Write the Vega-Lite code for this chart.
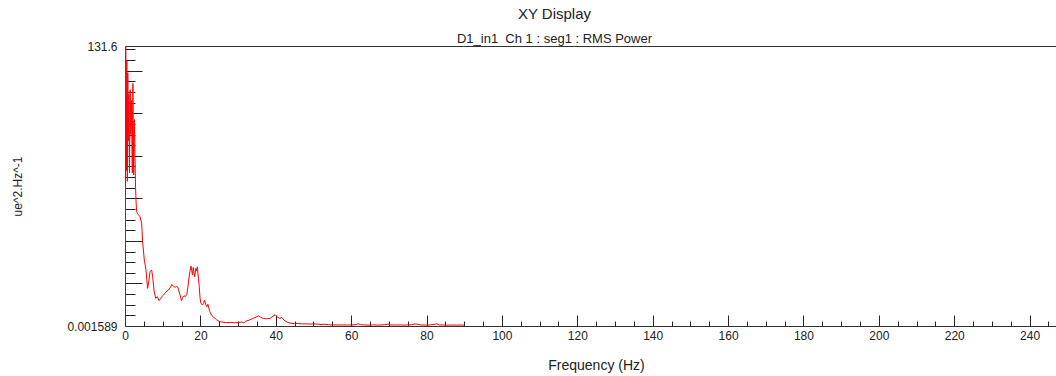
{
  "$schema": "https://vega.github.io/schema/vega-lite/v6.json",
  "width": 931,
  "height": 280,
  "autosize": "none",
  "padding": {"left": 125, "top": 46, "right": 0, "bottom": 50},
  "background": "white",
  "config": {
    "view": {"stroke": null},
    "font": "Liberation Sans",
    "axis": {"grid": false, "labelFont": "Liberation Sans", "titleFont": "Liberation Sans", "labelColor": "#222", "titleColor": "#222", "tickColor": "#222", "domainColor": "#333", "titleFontWeight": "normal"}
  },
  "title": {
    "text": "XY Display",
    "subtitle": "D1_in1\u00a0 Ch 1 : seg1 : RMS Power",
    "anchor": "middle",
    "dx": -36,
    "offset": -6,
    "fontSize": 15,
    "fontWeight": "normal",
    "color": "#222",
    "subtitleFontSize": 13,
    "subtitleColor": "#222",
    "subtitlePadding": 11,
    "font": "Liberation Sans",
    "subtitleFont": "Liberation Sans"
  },
  "data": {
    "values": [
      {"f": 0, "v": 6},
      {"f": 0.19, "v": 131.6},
      {"f": 0.34, "v": 73},
      {"f": 0.48, "v": 125},
      {"f": 0.61, "v": 68},
      {"f": 0.74, "v": 119},
      {"f": 0.88, "v": 87},
      {"f": 1.01, "v": 109},
      {"f": 1.19, "v": 72},
      {"f": 1.38, "v": 111},
      {"f": 1.54, "v": 90},
      {"f": 1.72, "v": 106},
      {"f": 1.94, "v": 72},
      {"f": 2.1, "v": 114},
      {"f": 2.3, "v": 71},
      {"f": 2.5, "v": 97},
      {"f": 2.65, "v": 80},
      {"f": 2.8, "v": 65},
      {"f": 2.95, "v": 58},
      {"f": 3.1, "v": 53.7},
      {"f": 3.45, "v": 52.5},
      {"f": 3.98, "v": 51.4},
      {"f": 4.42, "v": 48.3},
      {"f": 4.68, "v": 39.6},
      {"f": 5.13, "v": 31},
      {"f": 5.57, "v": 26.3},
      {"f": 6.0, "v": 17.7},
      {"f": 6.37, "v": 21.6},
      {"f": 6.63, "v": 25.5},
      {"f": 7.07, "v": 26.3},
      {"f": 7.34, "v": 23.2},
      {"f": 7.69, "v": 16.9},
      {"f": 8.14, "v": 13},
      {"f": 8.58, "v": 13.8},
      {"f": 9.02, "v": 11.9},
      {"f": 9.4, "v": 12.8},
      {"f": 9.73, "v": 13.8},
      {"f": 10.2, "v": 14.5},
      {"f": 10.6, "v": 15.4},
      {"f": 11.1, "v": 16.4},
      {"f": 11.5, "v": 16.9},
      {"f": 12.0, "v": 18.0},
      {"f": 12.4, "v": 19.5},
      {"f": 12.9, "v": 18.6},
      {"f": 13.3, "v": 18.2},
      {"f": 13.7, "v": 18.6},
      {"f": 14.0, "v": 18.2},
      {"f": 14.3, "v": 16.5},
      {"f": 14.6, "v": 14.6},
      {"f": 15.0, "v": 11.9},
      {"f": 15.3, "v": 13.5},
      {"f": 15.65, "v": 14.2},
      {"f": 16.0, "v": 13.8},
      {"f": 16.4, "v": 14.8},
      {"f": 16.7, "v": 18.5},
      {"f": 16.9, "v": 21.6},
      {"f": 17.2, "v": 25.5},
      {"f": 17.5, "v": 28.2},
      {"f": 17.7, "v": 26},
      {"f": 17.9, "v": 24},
      {"f": 18.1, "v": 27.5},
      {"f": 18.3, "v": 25},
      {"f": 18.5, "v": 23.2},
      {"f": 18.8, "v": 27.1},
      {"f": 19.0, "v": 26},
      {"f": 19.2, "v": 27.8},
      {"f": 19.45, "v": 23},
      {"f": 19.7, "v": 18.5},
      {"f": 19.9, "v": 13.5},
      {"f": 20.1, "v": 10.9},
      {"f": 20.5, "v": 9.9},
      {"f": 20.8, "v": 10.5},
      {"f": 21.1, "v": 12.2},
      {"f": 21.4, "v": 10.2},
      {"f": 21.7, "v": 9.1},
      {"f": 22.0, "v": 10.2},
      {"f": 22.3, "v": 8.0},
      {"f": 22.5, "v": 6.7},
      {"f": 23.0, "v": 5.0},
      {"f": 23.4, "v": 4.4},
      {"f": 24.0, "v": 3.3},
      {"f": 24.5, "v": 2.6},
      {"f": 25.2, "v": 2.0},
      {"f": 26, "v": 1.8},
      {"f": 27, "v": 1.6},
      {"f": 28, "v": 1.7},
      {"f": 29, "v": 1.5},
      {"f": 30, "v": 1.6},
      {"f": 31, "v": 1.9},
      {"f": 31.5, "v": 1.4},
      {"f": 32, "v": 2.2},
      {"f": 33, "v": 2.8},
      {"f": 34, "v": 3.6},
      {"f": 35, "v": 4.4},
      {"f": 35.5, "v": 4.8},
      {"f": 36, "v": 4.1},
      {"f": 36.7, "v": 3.5},
      {"f": 37.5, "v": 3.4},
      {"f": 38.5, "v": 3.6},
      {"f": 39.3, "v": 4.6},
      {"f": 39.8, "v": 5.3},
      {"f": 40.4, "v": 4.2},
      {"f": 41, "v": 3.6},
      {"f": 41.6, "v": 4.0},
      {"f": 42.3, "v": 2.6},
      {"f": 43, "v": 1.8},
      {"f": 44, "v": 1.3},
      {"f": 45, "v": 1.1},
      {"f": 46, "v": 1.2},
      {"f": 47, "v": 0.95},
      {"f": 48, "v": 1.0},
      {"f": 49, "v": 0.9},
      {"f": 50, "v": 1.0},
      {"f": 51, "v": 0.9},
      {"f": 52, "v": 0.7},
      {"f": 53, "v": 0.8},
      {"f": 54, "v": 0.6},
      {"f": 55, "v": 0.5},
      {"f": 56, "v": 0.55},
      {"f": 57, "v": 0.5},
      {"f": 58, "v": 0.5},
      {"f": 59, "v": 0.45},
      {"f": 60, "v": 0.5},
      {"f": 61, "v": 0.6},
      {"f": 62, "v": 1.0},
      {"f": 62.5, "v": 0.6},
      {"f": 63.5, "v": 0.5},
      {"f": 65, "v": 0.4},
      {"f": 66, "v": 0.5},
      {"f": 67, "v": 0.45},
      {"f": 68, "v": 0.5},
      {"f": 69, "v": 0.6},
      {"f": 70, "v": 0.9},
      {"f": 70.5, "v": 0.5},
      {"f": 72, "v": 0.45},
      {"f": 73, "v": 0.5},
      {"f": 74, "v": 0.4},
      {"f": 75, "v": 0.5},
      {"f": 76, "v": 0.6},
      {"f": 77, "v": 1.0},
      {"f": 77.5, "v": 0.9},
      {"f": 78.5, "v": 0.5},
      {"f": 80, "v": 0.45},
      {"f": 81, "v": 0.5},
      {"f": 82, "v": 0.8},
      {"f": 82.7, "v": 1.0},
      {"f": 83.5, "v": 0.5},
      {"f": 85, "v": 0.45},
      {"f": 86, "v": 0.4},
      {"f": 87, "v": 0.45},
      {"f": 88, "v": 0.4},
      {"f": 89, "v": 0.45},
      {"f": 90, "v": 0.4}
    ]
  },
  "resolve": {"axis": {"x": "independent", "y": "independent"}},
  "layer": [
    {
      "mark": {"type": "line", "color": "#ff0000", "strokeWidth": 1, "clip": true},
      "encoding": {
        "x": {
          "field": "f", "type": "quantitative",
          "scale": {"domain": [0, 247], "nice": false, "zero": false},
          "axis": {
            "orient": "bottom",
            "values": [0, 20, 40, 60, 80, 100, 120, 140, 160, 180, 200, 220, 240],
            "ticks": false, "domain": true,
            "labelPadding": 4, "labelFontSize": 12, "labelFlush": false,
            "title": "Frequency (Hz)", "titleFontSize": 14,
            "titleX": 471, "titleY": 39, "titleBaseline": "middle", "titleAnchor": null
          }
        },
        "y": {
          "field": "v", "type": "quantitative",
          "scale": {"domain": [0.001589, 131.6], "nice": false, "zero": false},
          "axis": {
            "orient": "left",
            "values": [0.001589, 131.6],
            "format": ".4~g",
            "ticks": false, "domain": true,
            "labelPadding": 8, "labelFontSize": 12, "labelFlush": false,
            "title": "ue^2.Hz^-1", "titleFontSize": 12,
            "titleX": -101, "titleY": 140, "titleAngle": 270, "titleBaseline": "bottom", "titleAlign": "center"
          }
        }
      }
    },
    {
      "mark": {"type": "line", "opacity": 0},
      "encoding": {
        "x": {
          "field": "f", "type": "quantitative",
          "axis": {
            "orient": "top", "offset": -280,
            "values": [0, 20, 40, 60, 80, 100, 120, 140, 160, 180, 200, 220, 240],
            "ticks": true, "tickSize": 11, "labels": false, "domain": false, "title": null
          }
        },
        "y": {
          "field": "v", "type": "quantitative",
          "axis": {
            "orient": "right", "offset": -931,
            "values": [20, 40, 60, 80, 100, 120],
            "ticks": true, "tickSize": 17, "labels": false, "domain": false, "title": null
          }
        }
      }
    },
    {
      "mark": {"type": "line", "opacity": 0},
      "encoding": {
        "x": {
          "field": "f", "type": "quantitative",
          "axis": {
            "orient": "top", "offset": -280,
            "values": [5, 10, 15, 25, 30, 35, 45, 50, 55, 65, 70, 75, 85, 90, 95, 105, 110, 115, 125, 130, 135, 145, 150, 155, 165, 170, 175, 185, 190, 195, 205, 210, 215, 225, 230, 235, 245],
            "ticks": true, "tickSize": 5, "labels": false, "domain": false, "title": null
          }
        },
        "y": {
          "field": "v", "type": "quantitative",
          "axis": {
            "orient": "right", "offset": -931,
            "values": [5, 10, 15, 25, 30, 35, 45, 50, 55, 65, 70, 75, 85, 90, 95, 105, 110, 115, 125, 130],
            "ticks": true, "tickSize": 10, "labels": false, "domain": false, "title": null
          }
        }
      }
    },
    {
      "mark": {"type": "line", "opacity": 0},
      "encoding": {
        "x": {
          "field": "f", "type": "quantitative",
          "axis": {"orient": "top", "ticks": false, "labels": false, "domain": true, "title": null}
        },
        "y": {"field": "v", "type": "quantitative", "axis": null}
      }
    }
  ]
}
